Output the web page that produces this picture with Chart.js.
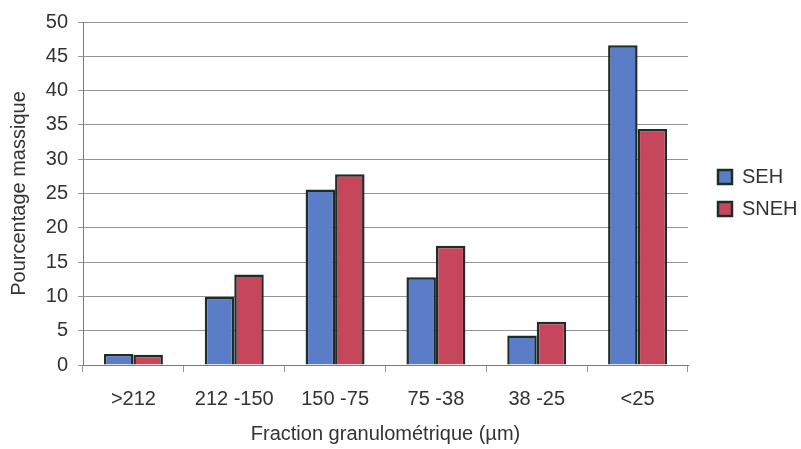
<!DOCTYPE html>
<html>
<head>
<meta charset="utf-8">
<script src="https://cdn.jsdelivr.net/npm/chart.js@4/dist/chart.umd.min.js"></script>
<style>
  html, body { margin: 0; padding: 0; background: #ffffff; }
  #wrap { width: 801px; height: 449px; }
</style>
</head>
<body>
<div id="wrap"><canvas id="c" width="801" height="449"></canvas></div>
<script>
// Particle size fractions (µm) and mass percentages
const categories = ['>212', '212 -150', '150 -75', '75 -38', '38 -25', '<25'];
const seh = [1.6, 9.9, 25.6, 12.8, 4.3, 46.6];
const sneh = [1.5, 13.2, 27.8, 17.4, 6.3, 34.4];
const yTicks = [0, 5, 10, 15, 20, 25, 30, 35, 40, 45, 50];

const FONT = 'Liberation Sans, Arial, sans-serif';
const TEXT = '#333333';
const GRID = '#959595';
const EDGE = '#1f2d29';

// Fixes the legend column width and moves its items into place
const legendPlacement = {
  id: 'legendPlacement',
  beforeInit(chart) {
    const legend = chart.legend;
    const fit = legend.fit;
    legend.fit = function () {
      fit.call(this);
      this.width = 113;
    };
  },
  afterLayout(chart) {
    const lg = chart.legend;
    lg.left += 18;
    lg.right += 18;
    lg.top -= 82;
  }
};

new Chart(document.getElementById('c'), {
  type: 'bar',
  data: {
    labels: categories,
    datasets: [
      { label: 'SEH', data: seh, backgroundColor: '#5b7dc7', borderColor: EDGE, borderWidth: 2.5 },
      { label: 'SNEH', data: sneh, backgroundColor: '#c6475b', borderColor: EDGE, borderWidth: 2.5 }
    ]
  },
  options: {
    responsive: false,
    animation: false,
    layout: { padding: { top: 19, right: 0, bottom: 0, left: 0 } },
    datasets: { bar: { categoryPercentage: 0.585, barPercentage: 1 } },
    plugins: {
      legend: {
        position: 'right',
        labels: {
          boxWidth: 14,
          boxHeight: 14,
          padding: 12,
          color: TEXT,
          font: { family: FONT, size: 20 }
        }
      },
      tooltip: { enabled: false }
    },
    scales: {
      x: {
        afterFit(s) { s.height = 84; },
        grid: {
          offset: true,
          drawOnChartArea: true,
          color: ctx => (ctx.index === categories.length ? GRID : 'rgba(0,0,0,0)'),
          tickColor: GRID,
          tickLength: 7
        },
        border: { color: '#7a7a7a', width: 1 },
        ticks: { color: TEXT, font: { family: FONT, size: 20 }, padding: 15, maxRotation: 0 },
        title: {
          display: true,
          text: 'Fraction granulométrique (µm)',
          color: TEXT,
          font: { family: FONT, size: 20 },
          padding: { top: 6, bottom: 3 }
        }
      },
      y: {
        min: 0,
        max: 50,
        afterFit(s) { s.width = 83; },
        afterBuildTicks(s) { s.ticks = yTicks.map(v => ({ value: v })); },
        grid: { color: GRID, tickColor: GRID, tickLength: 5 },
        border: { color: '#7a7a7a', width: 1 },
        ticks: { color: TEXT, font: { family: FONT, size: 20 }, padding: 10 },
        title: {
          display: true,
          text: 'Pourcentage massique',
          color: TEXT,
          font: { family: FONT, size: 20 },
          padding: { top: 7, bottom: 0 }
        }
      }
    }
  },
  plugins: [legendPlacement]
});
</script>
</body>
</html>
